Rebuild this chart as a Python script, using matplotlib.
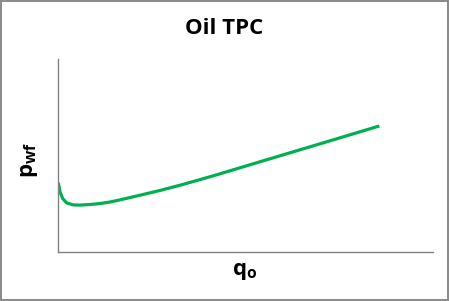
import matplotlib
matplotlib.use("Agg")
import matplotlib.pyplot as plt

# curve (axes scaled 0-100 on both directions)
q_o = [0.16, 0.61, 1.33, 2.40, 4.16, 5.94, 8.61, 11.27, 13.94, 16.6, 21.9, 27.3,
       32.6, 37.9, 42.7, 55.7, 73.4, 85.7]
p_wf = [35.9, 31.2, 27.7, 25.4, 24.4, 24.3, 24.6, 25.1, 25.9, 27.0, 29.4, 31.9,
        34.6, 37.5, 40.2, 47.8, 58.1, 65.3]

title = "Oil TPC"
x_label = r"$\mathbf{q_o}$"
y_label = r"$\mathbf{p_{wf}}$"

plt.rcParams['font.family'] = ['Open Sans', 'DejaVu Sans']
plt.rcParams['mathtext.fontset'] = 'custom'
plt.rcParams['mathtext.bf'] = 'Open Sans:bold'
plt.rcParams['mathtext.rm'] = 'Open Sans'
plt.rcParams['mathtext.it'] = 'Open Sans:italic'

fig = plt.figure(figsize=(4.49, 3.01), dpi=100)
fig.patch.set_edgecolor('#8c8c8c')
fig.patch.set_linewidth(1.5)

ax = fig.add_axes([57.7 / 449, (301 - 252) / 301, (433 - 57.7) / 449, (252 - 59) / 301])
ax.plot(q_o, p_wf, color='#00B050', linewidth=2.3, solid_capstyle='butt',
        solid_joinstyle='round')

ax.set_xlim(0, 100)
ax.set_ylim(0, 100)
ax.set_xticks([])
ax.set_yticks([])
for side in ['top', 'right']:
    ax.spines[side].set_visible(False)
for side in ['left', 'bottom']:
    ax.spines[side].set_color('#808080')
    ax.spines[side].set_linewidth(1.0)

fig.text(0.5, 1 - 28 / 301, title, ha='center', va='center', fontsize=16, fontweight='bold')
fig.text(29 / 449, 1 - 160 / 301, y_label, ha='center', va='center', rotation=90, fontsize=16)
fig.text(245 / 449, 1 - 272 / 301, x_label, ha='center', va='center', fontsize=16)

fig.savefig('out.png', dpi=100)
